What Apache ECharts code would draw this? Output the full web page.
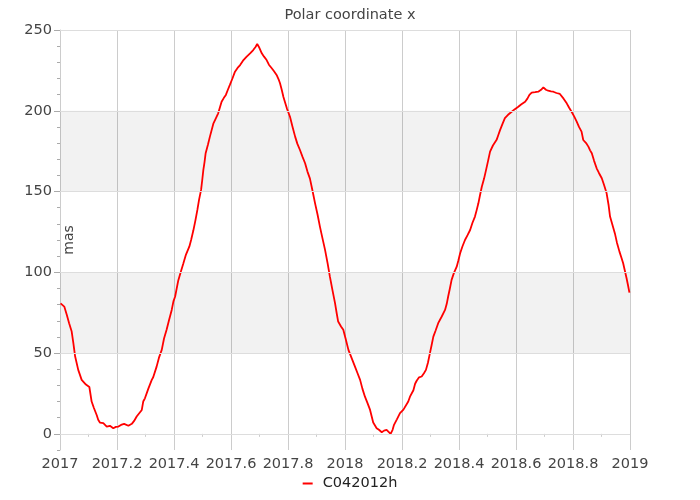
<!DOCTYPE html>
<html>
<head>
<meta charset="utf-8">
<script src="https://cdn.jsdelivr.net/npm/echarts@6/dist/echarts.min.js"></script>
<style>html,body{margin:0;padding:0;background:#fff;}#c{width:700px;height:500px;}</style>
</head>
<body>
<div id="c"></div>
<script>
var titleText = "Polar coordinate x";
var seriesName = "C042012h";
var yName = "mas";
var yMajorTicks = [0, 50, 100, 150, 200, 250];
var bands = [[50, 100], [150, 200]];
var years = [2017.002,2017.006,2017.015,2017.024,2017.032,2017.041,2017.047,2017.053,2017.064,2017.076,2017.091,2017.103,2017.111,2017.119,2017.129,2017.134,2017.140,2017.152,2017.164,2017.175,2017.187,2017.196,2017.205,2017.214,2017.225,2017.240,2017.252,2017.260,2017.269,2017.275,2017.287,2017.292,2017.298,2017.310,2017.322,2017.327,2017.339,2017.347,2017.357,2017.365,2017.374,2017.382,2017.392,2017.398,2017.404,2017.415,2017.425,2017.433,2017.442,2017.454,2017.460,2017.468,2017.475,2017.482,2017.488,2017.495,2017.499,2017.503,2017.507,2017.511,2017.519,2017.526,2017.538,2017.546,2017.555,2017.561,2017.567,2017.575,2017.582,2017.589,2017.596,2017.605,2017.614,2017.623,2017.632,2017.642,2017.655,2017.667,2017.678,2017.686,2017.692,2017.698,2017.708,2017.716,2017.725,2017.733,2017.743,2017.751,2017.760,2017.767,2017.772,2017.778,2017.784,2017.789,2017.796,2017.807,2017.816,2017.825,2017.833,2017.842,2017.851,2017.860,2017.868,2017.877,2017.886,2017.895,2017.904,2017.912,2017.921,2017.930,2017.939,2017.947,2017.956,2017.965,2017.971,2017.976,2017.986,2017.994,2018.002,2018.012,2018.023,2018.035,2018.044,2018.053,2018.061,2018.070,2018.079,2018.088,2018.099,2018.111,2018.119,2018.129,2018.137,2018.146,2018.153,2018.160,2018.167,2018.172,2018.182,2018.193,2018.205,2018.211,2018.222,2018.228,2018.240,2018.246,2018.252,2018.260,2018.269,2018.277,2018.284,2018.291,2018.298,2018.304,2018.310,2018.318,2018.327,2018.339,2018.351,2018.357,2018.362,2018.368,2018.374,2018.382,2018.392,2018.398,2018.404,2018.412,2018.421,2018.430,2018.439,2018.447,2018.456,2018.462,2018.468,2018.474,2018.480,2018.488,2018.495,2018.502,2018.509,2018.519,2018.532,2018.538,2018.544,2018.553,2018.561,2018.572,2018.585,2018.596,2018.608,2018.619,2018.632,2018.640,2018.647,2018.655,2018.667,2018.678,2018.688,2018.696,2018.705,2018.713,2018.723,2018.731,2018.742,2018.754,2018.767,2018.778,2018.786,2018.795,2018.804,2018.813,2018.821,2018.830,2018.836,2018.846,2018.854,2018.860,2018.866,2018.874,2018.883,2018.891,2018.901,2018.909,2018.918,2018.925,2018.930,2018.939,2018.947,2018.954,2018.963,2018.970,2018.976,2018.982,2018.988,2018.993,2018.998];
var values = [80.8,80.4,78.8,73.6,68.5,63.3,56,48,39.6,33.4,30.5,29,20,16,11.5,8.7,7,6.6,4.5,5,3.5,4.3,4.5,5.5,6.2,5,6.2,8,10.7,11.8,14.8,20,22,28,33.4,35,41.6,47,52,59,64.4,70,76.7,82,85,95,101,105.6,111,116,120,126,132,138.6,145,151,157,163.4,168,173.7,179,184,192,195,198.4,202,205.6,208,209.8,213,216,220,224.2,226.5,228.3,231,233.5,235.5,237.6,239.5,241.3,239.5,235.6,233.5,231.4,228.5,226.3,224.5,222.2,219.5,217,213,208.5,205.6,201.5,196.3,190,184,179.5,175.7,171.5,167.5,162.5,158,150.5,142.7,135.5,128.3,121,113.9,105.5,97.3,89,80.9,74.5,69.5,66.5,64.4,59,52,47,41.6,37.5,33.4,28,23,19,14.8,7,3.5,2.5,1,2,2.5,1.5,0,2.5,5.6,9,12.8,15,16,20,23,27,31,33,35,35.5,37.5,39.6,44,50,55,60.2,64,68.5,72.5,76.7,80.5,85,90,95.3,99.5,103.5,107.5,111.8,116,120,123,126.2,130.5,134.5,138.5,142.7,148,153,158,163.4,169,174.7,178.5,182,185,188,192,195.4,197.5,199.4,201,202.5,204,205.6,207.5,209.8,211.2,211.5,211.8,213,214.5,213,212.4,212,211.8,211,210.4,207.5,204.6,202,199.4,196.5,193.3,190,187.1,181.9,180,177.8,175.5,173.7,169,164.4,161.5,158.2,154,148.9,141.5,134.5,129,124.1,118.5,112.8,109,105.6,101,96.3,92,87.4];

var font = '"DejaVu Sans", Verdana, sans-serif';
var points = years.map(function (y, i) { return [y, values[i]]; });

var chart = echarts.init(document.getElementById('c'), null, {renderer: 'canvas'});
chart.setOption({
  animation: false,
  backgroundColor: '#fff',
  title: {
    text: titleText, left: 'center', top: 3,
    textStyle: {fontFamily: font, fontSize: 14.5, fontWeight: 'normal', color: '#444'}
  },
  legend: {
    bottom: 4, left: 'center',
    icon: 'rect', itemWidth: 10, itemHeight: 2, itemGap: 10,
    textStyle: {fontFamily: font, fontSize: 14.5, color: '#222', padding: [0, 0, 0, 5]},
    data: [seriesName]
  },
  grid: {left: 60, right: 70, top: 30, bottom: 50, containLabel: false},
  xAxis: {
    type: 'value', min: 2017, max: 2019, interval: 0.2,
    axisLine: {show: true, lineStyle: {color: '#ccc'}},
    axisTick: {show: true, length: 5, lineStyle: {color: '#ccc'}},
    minorTick: {show: true, splitNumber: 2, length: 3, lineStyle: {color: '#ccc'}},
    splitLine: {show: true, lineStyle: {color: '#ccc'}},
    axisLabel: {
      fontFamily: font, fontSize: 14.5, color: '#444', margin: 7,
      formatter: function (v) { return String(+v.toFixed(1)); }
    }
  },
  yAxis: [{
    type: 'value', min: -10, max: 250, interval: 10, position: 'left',
    name: yName, nameLocation: 'middle', nameGap: -16, nameRotate: 90,
    nameTextStyle: {fontFamily: font, fontSize: 14, color: '#444'},
    axisLine: {show: true, lineStyle: {color: '#ccc'}},
    axisTick: {show: true, length: 3, lineStyle: {color: '#aaa'}},
    axisLabel: {show: false},
    splitLine: {show: false}
  }, {
    type: 'value', min: -10, max: 250, position: 'left',
    axisLine: {show: false},
    axisTick: {show: true, length: 6, customValues: yMajorTicks, lineStyle: {color: '#aaa'}},
    axisLabel: {show: true, customValues: yMajorTicks, fontFamily: font, fontSize: 14.5, color: '#444', margin: 8},
    splitLine: {show: false}
  }],
  series: [{
    name: seriesName, type: 'line', data: points, showSymbol: false, symbol: 'none',
    yAxisIndex: 0,
    lineStyle: {color: '#ff0000', width: 1.8},
    itemStyle: {color: '#ff0000'},
    markArea: {
      silent: true,
      itemStyle: {color: 'rgba(0,0,0,0.05)'},
      data: bands.map(function (b) { return [{yAxis: b[0]}, {yAxis: b[1]}]; })
    },
    markLine: {
      silent: true, symbol: 'none', label: {show: false},
      lineStyle: {color: '#ddd', type: 'solid', width: 1},
      data: yMajorTicks.map(function (t) { return {yAxis: t}; })
    }
  }]
});
</script>
</body>
</html>
